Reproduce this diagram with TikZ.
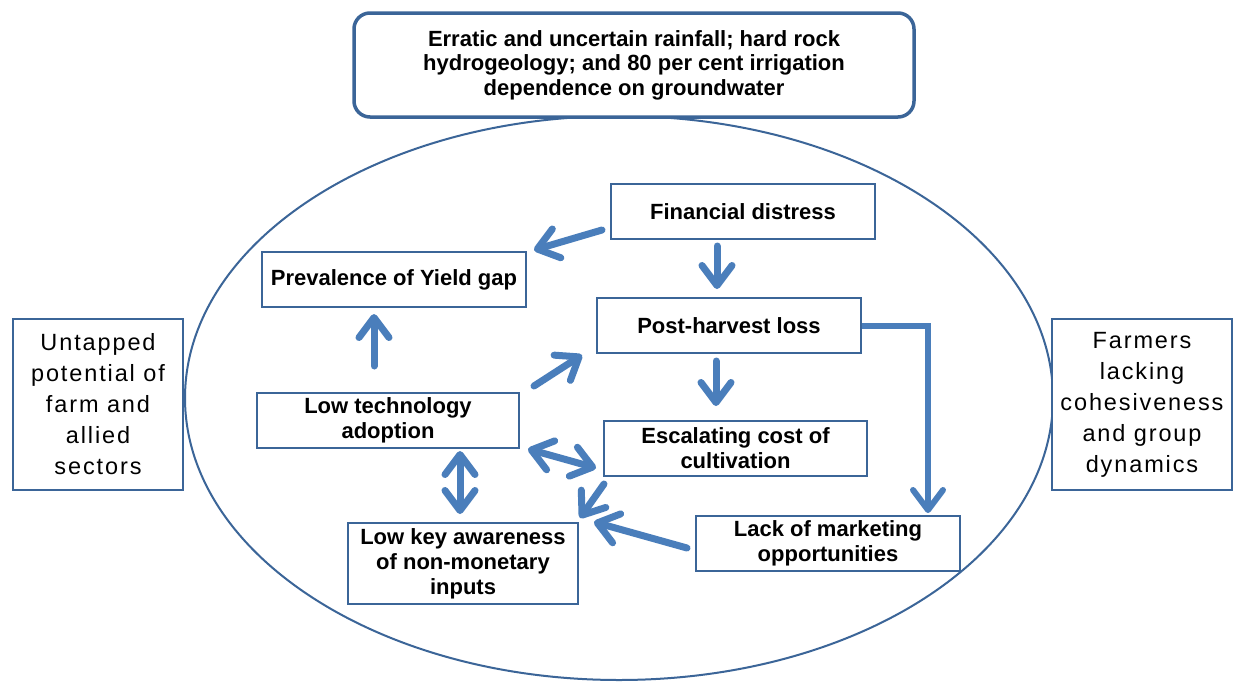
\documentclass[tikz,border=0pt]{standalone}
\usepackage{fontspec}
\setmainfont{Liberation Sans}
\newfontfamily\sidefont[LetterSpace=8]{Liberation Sans}
\usetikzlibrary{arrows.meta,calc}
\definecolor{bord}{HTML}{3B6598}
\definecolor{arrc}{HTML}{4A7EBB}
\begin{document}
\begin{tikzpicture}[x=1pt,y=-1pt,
  box/.style={draw=bord, line width=2pt, fill=white, inner sep=0pt, align=center,
    font=\bfseries\fontsize{22}{25}\selectfont},
  topbox/.style={draw=bord, line width=3.5pt, fill=white, inner sep=0pt, align=center,
    rounded corners=16pt, font=\bfseries\fontsize{22}{24.5}\selectfont},
  sidebox/.style={draw=bord, line width=2pt, fill=white, inner sep=0pt, align=center,
    font=\sidefont\fontsize{23.5}{31}\selectfont},
  arr/.style={draw=arrc, line width=7pt, line cap=round,
    -{Straight Barb[length=20pt, width=30pt, round]}},
  darr/.style={draw=arrc, line width=7pt, line cap=round,
    {Straight Barb[length=20pt, width=30pt, round]}-{Straight Barb[length=20pt, width=30pt, round]}},
  elbow/.style={draw=arrc, line width=6pt,
    -{Straight Barb[length=20pt, width=30pt, round]}}
]
\useasboundingbox (0,0) rectangle (1234,681);
\fill[white] (0,0) rectangle (1234,681);

\draw[bord, line width=2pt] (619,398) ellipse [x radius=434pt, y radius=282pt];

\node[topbox, minimum width=560pt, minimum height=104pt] (top) at (634,65)
  {Erratic and uncertain rainfall; hard rock\\hydrogeology; and 80 per cent irrigation\\dependence on groundwater};

\node[box, minimum width=264pt, minimum height=55pt] (fin) at (743,211.5) {Financial distress};
\node[box, minimum width=264pt, minimum height=55pt] (prev) at (394,279.5) {Prevalence of Yield gap};
\node[box, minimum width=264pt, minimum height=55pt] (post) at (729,325.5) {Post-harvest loss};
\node[box, minimum width=263pt, minimum height=55pt] (esc) at (735.5,448.5) {Escalating cost of\\cultivation};
\node[box, minimum width=264pt, minimum height=55pt] (lack) at (828,543.5) {Lack of marketing\\opportunities};
\node[box, minimum width=262pt, minimum height=55pt] (tech) at (388,420.5) {Low technology\\adoption};
\node[box, minimum width=230pt, minimum height=81pt] (key) at (463,563.5) {Low key awareness\\of non-monetary\\inputs};

\node[sidebox, minimum width=170pt, minimum height=171pt] (untap) at (98,404.5)
  {Untapped\\potential of\\farm and\\allied\\sectors};
\node[sidebox, minimum width=180pt, minimum height=171pt] (farm) at (1142,404.5)
  {Farmers\\lacking\\cohesiveness\\and group\\dynamics};

\draw[arr] ($(fin.west)+(-8,18.5)$) -- ($(prev.north east)+(7,-1)$);
\draw[arr] ($(fin.south)+(-26,6)$) -- ($(post.north)+(-12,-8)$);
\draw[arr] ($(tech.north)+(-14,-26)$) -- ($(prev.south)+(-20,6)$);
\draw[arr] ($(tech.north east)+(14,-6)$) -- ($(post.south west)+(-14,1)$);
\draw[arr] ($(post.south)+(-13,7)$) -- ($(esc.north)+(-19.5,-14)$);
\draw[elbow] (post.east) -| ($(lack.north)+(100,-2)$);
\draw[darr] ($(tech.south east)+(8,0)$) -- ($(esc.west)+(-7,19.5)$);
\draw[darr] ($(tech.south)+(72,2)$) -- ($(key.north)+(-3,-8)$);
\draw[arr] ($(esc.south west)+(1,7)$) -- ($(key.north east)+(1,-4)$);
\draw[arr] ($(lack.west)+(-8,4.5)$) -- ($(key.north east)+(15,0)$);
\end{tikzpicture}
\end{document}
